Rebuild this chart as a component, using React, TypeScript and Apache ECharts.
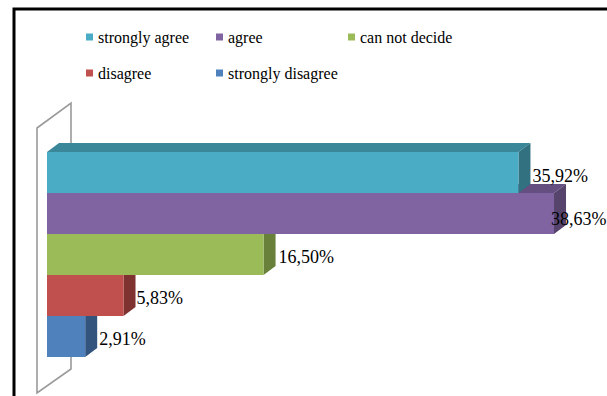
import React, { useEffect, useRef } from "react";
import * as echarts from "echarts";

// ---- data ----
const seriesNames = ["strongly agree", "agree", "can not decide", "disagree", "strongly disagree"];
const seriesValues = [35.92, 38.63, 16.5, 5.83, 2.91];
const categories = ["0", "1", "2", "3", "4"];

// ---- styles ----
const frontColors = ["#4BACC6", "#8064A2", "#9BBB59", "#C0504D", "#4F81BD"];
const topColors = ["#3A8799", "#654F80", "#7A9446", "#973F3C", "#3E6594"];
const sideColors = ["#317180", "#56446D", "#68803A", "#7F3331", "#33547D"];
const labelDx = [2, -15, 3, 1, 2];
const labelDy = [3, 5, 2, 2, 2];
const legendPos = [
  [86, 29],
  [216, 29],
  [348, 29],
  [86, 65],
  [216, 65],
];

const DEPTH_X = 12;
const DEPTH_Y = 9;
const FONT = "Liberation Serif";

const fmt = (v: number) => v.toFixed(2).replace(".", ",") + "%";

function makeBarRender(i: number) {
  return (params: any, api: any) => {
    const val = api.value(0);
    const cat = api.value(1);
    const start = api.coord([0, cat]);
    const end = api.coord([val, cat]);
    const band = api.size([0, 1])[1];
    const x0 = start[0];
    const x1 = end[0];
    const yT = start[1] - band / 2;
    const yB = start[1] + band / 2;
    return {
      type: "group",
      children: [
        {
          type: "polygon",
          shape: { points: [[x0, yT], [x0 + DEPTH_X, yT - DEPTH_Y], [x1 + DEPTH_X, yT - DEPTH_Y], [x1, yT]] },
          style: { fill: topColors[i] },
        },
        {
          type: "polygon",
          shape: { points: [[x1, yT], [x1 + DEPTH_X, yT - DEPTH_Y], [x1 + DEPTH_X, yB - DEPTH_Y], [x1, yB]] },
          style: { fill: sideColors[i] },
        },
        {
          type: "rect",
          shape: { x: x0, y: yT, width: x1 - x0, height: band },
          style: { fill: frontColors[i] },
        },
        {
          type: "text",
          style: {
            text: fmt(val),
            x: x1 + DEPTH_X + labelDx[i],
            y: start[1] + labelDy[i],
            fill: "#000",
            fontSize: 18,
            fontFamily: FONT,
            align: "left",
            verticalAlign: "middle",
          },
        },
      ],
    };
  };
}

function renderWall(params: any) {
  const cs = params.coordSys;
  const x = cs.x;
  const y = cs.y;
  const h = cs.height;
  return {
    type: "polygon",
    shape: {
      points: [
        [x - 10, y - 24],
        [x + 24, y - 49],
        [x + 24, y + h + 12],
        [x - 10, y + h + 36],
      ],
    },
    style: { fill: "#ffffff", stroke: "#9a9a9a", lineWidth: 1.6 },
  };
}

export default function App() {
  const ref = useRef<HTMLDivElement>(null);
  useEffect(() => {
    if (!ref.current) return;
    const chart = echarts.init(ref.current, null, { renderer: "svg" });
    const order = [4, 3, 2, 1, 0];
    const series: any[] = [
      {
        type: "custom",
        name: "__wall",
        silent: true,
        renderItem: renderWall,
        data: [[0, 0]],
        encode: { x: 0, y: 1 },
        z: 1,
      },
      ...order.map((i) => ({
        type: "custom",
        name: seriesNames[i],
        itemStyle: { color: frontColors[i] },
        renderItem: makeBarRender(i),
        data: [[seriesValues[i], i]],
        encode: { x: 0, y: 1 },
        z: 2,
      })),
    ];
    chart.setOption({
      animation: false,
      backgroundColor: "#ffffff",
      color: frontColors,
      textStyle: { fontFamily: FONT },
      graphic: [
        {
          type: "rect",
          left: 11.5,
          top: 6.5,
          shape: { width: 700, height: 500 },
          style: { fill: "none", stroke: "#000", lineWidth: 3 },
          z: 100,
        },
      ],
      legend: seriesNames.map((n, i) => ({
        data: [n],
        left: legendPos[i][0],
        top: legendPos[i][1],
        padding: 0,
        icon: "rect",
        itemWidth: 7,
        itemHeight: 7,
        itemGap: 4,
        textStyle: { fontFamily: FONT, fontSize: 16, color: "#000" },
        selectedMode: true,
      })),
      grid: { left: 47, top: 152, width: 525, height: 205 },
      xAxis: { type: "value", min: 0, max: 40, show: false },
      yAxis: { type: "category", data: categories, inverse: true, show: false },
      series,
    });
    return () => chart.dispose();
  }, []);
  return <div ref={ref} style={{ position: "fixed", left: 0, top: 0, width: 607, height: 396 }} />;
}
